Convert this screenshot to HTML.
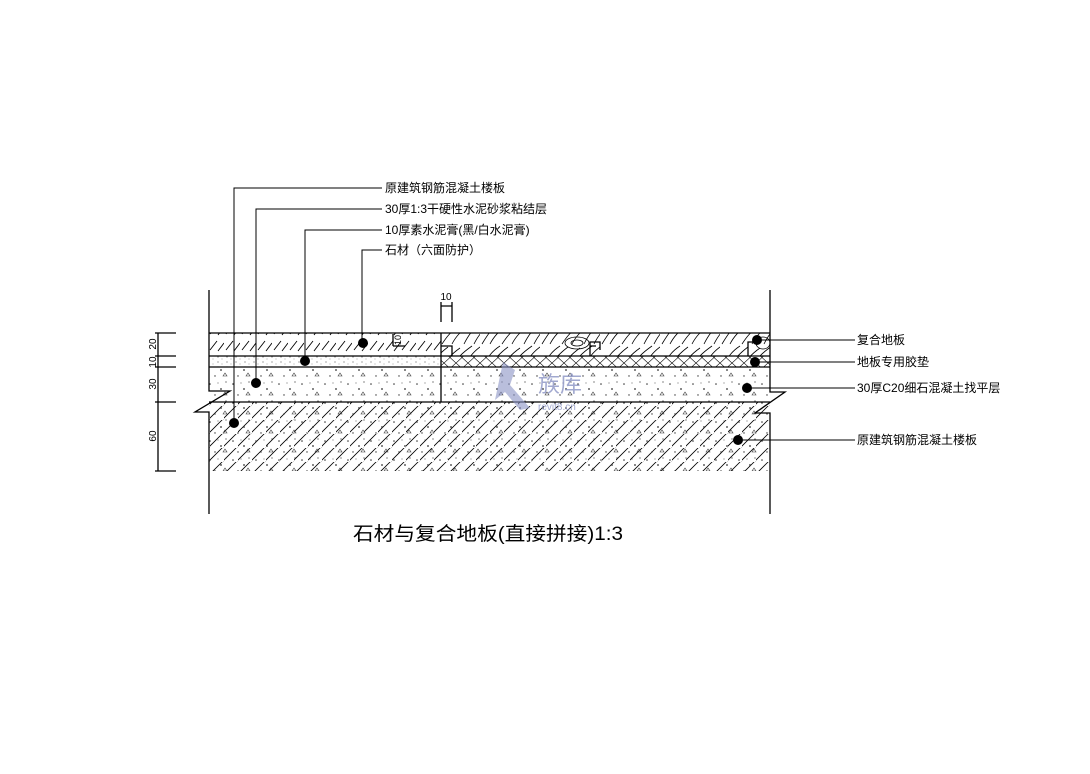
<!DOCTYPE html>
<html><head><meta charset="utf-8"><style>
html,body{margin:0;padding:0;background:#fff;}
svg{display:block;}
text{font-family:"Liberation Sans","Noto Sans CJK SC",sans-serif;fill:#000;}
</style></head><body>
<svg width="1090" height="774" viewBox="0 0 1090 774" xmlns="http://www.w3.org/2000/svg">
<defs>
<pattern id="diag" width="14" height="14" patternUnits="userSpaceOnUse">
<path d="M-2,14 L14,-2 M12,16 L16,12" stroke="#000" stroke-width="0.8"/>
</pattern>
<pattern id="stonehatch" width="16" height="16" patternUnits="userSpaceOnUse">
<path d="M2,14 L9,5 M10,15 L16,7" stroke="#000" stroke-width="0.9"/>
</pattern>
<pattern id="dots" width="23" height="19" patternUnits="userSpaceOnUse">
<circle cx="3" cy="4" r="0.8" fill="#333"/><circle cx="14" cy="9" r="0.9" fill="#333"/>
<circle cx="8" cy="15" r="0.7" fill="#333"/><circle cx="19" cy="2" r="0.6" fill="#333"/>
<path d="M16,15 l2,-3 l2,3z" fill="none" stroke="#333" stroke-width="0.6"/>
<circle cx="11" cy="3" r="0.5" fill="#333"/>
</pattern>
<pattern id="fine" width="9" height="5" patternUnits="userSpaceOnUse">
<circle cx="2" cy="2" r="0.6" fill="#666"/><circle cx="6" cy="4" r="0.5" fill="#888"/>
</pattern>
<pattern id="cross" width="12" height="11" patternUnits="userSpaceOnUse">
<path d="M0,0 L12,11 M12,0 L0,11" stroke="#000" stroke-width="0.6"/>
</pattern>
<pattern id="wood" width="60" height="23" patternUnits="userSpaceOnUse">
<path d="M2,22 C8,12 12,6 20,1 M10,22 C14,14 20,8 28,2 M22,22 C26,16 30,10 40,3 M32,22 C36,14 42,8 52,1 M44,22 C48,14 52,8 60,2 M54,22 C56,18 58,14 62,10" stroke="#000" stroke-width="0.8" fill="none"/>
</pattern>
</defs>

<rect x="209" y="333" width="232" height="23" fill="url(#stonehatch)"/>
<rect x="441" y="333" width="329" height="23" fill="url(#wood)"/>
<ellipse cx="577" cy="343" rx="12" ry="6" fill="none" stroke="#000" stroke-width="0.8"/>
<ellipse cx="577" cy="343" rx="6" ry="3" fill="none" stroke="#000" stroke-width="0.8"/>
<ellipse cx="763" cy="343" rx="7" ry="6" fill="none" stroke="#000" stroke-width="0.8"/>
<rect x="209" y="356" width="232" height="11" fill="url(#fine)"/>
<rect x="441" y="356" width="329" height="11" fill="url(#cross)"/>
<rect x="209" y="367" width="561" height="35" fill="url(#dots)"/>
<rect x="209" y="402" width="561" height="69" fill="url(#diag)"/>
<rect x="209" y="402" width="561" height="69" fill="url(#dots)"/>

<g stroke="#000" stroke-width="1.3" fill="none">
<line x1="209" y1="333" x2="770" y2="333"/>
<line x1="209" y1="356" x2="770" y2="356"/>
<line x1="209" y1="367" x2="770" y2="367"/>
<line x1="209" y1="402" x2="770" y2="402"/>
<line x1="441" y1="333" x2="441" y2="402"/>
<path d="M441,346 H452 V356"/>
<path d="M590,356 V342 H600 V350 M590,346 H596"/>
<path d="M748,356 V342 H758"/>
<path d="M209,290 V391 H230 L195,412 H209 V514"/>
<path d="M770,290 V392 H785 L755,413 H770 V514"/>
<path d="M441,302 V322 M452,302 V322 M441,306 H452"/>
<path d="M158,333 V471 M155,333 H176 M155,356 H176 M155,367 H176 M155,402 H176 M155,471 H176"/>
<path d="M393,334 V346 M393,346 H405"/>
</g>
<g font-size="10">
<text x="446" y="300" text-anchor="middle">10</text>
<text transform="translate(156,344) rotate(-90)" text-anchor="middle">20</text>
<text transform="translate(156,362) rotate(-90)" text-anchor="middle">10</text>
<text transform="translate(156,384) rotate(-90)" text-anchor="middle">30</text>
<text transform="translate(156,436) rotate(-90)" text-anchor="middle">60</text>
<text transform="translate(401,340) rotate(-90)" text-anchor="middle" font-size="9">10</text>
</g>

<g stroke="#000" stroke-width="1" fill="none">
<path d="M234,423 V188 H382"/>
<path d="M256,383 V209 H382"/>
<path d="M305,361 V230 H382"/>
<path d="M362,343 V250 H382"/>
<path d="M757,340 H855"/>
<path d="M755,362 H855"/>
<path d="M747,388 H855"/>
<path d="M738,440 H855"/>
</g>
<g fill="#000">
<circle cx="234" cy="423" r="5"/><circle cx="256" cy="383" r="5"/>
<circle cx="305" cy="361" r="5"/><circle cx="363" cy="343" r="5"/>
<circle cx="757" cy="340" r="5"/><circle cx="755" cy="362" r="5"/>
<circle cx="747" cy="388" r="5"/><circle cx="738" cy="440" r="5"/>
</g>
<g font-size="12">
<text x="385" y="192">原建筑钢筋混凝土楼板</text>
<text x="385" y="213">30厚1:3干硬性水泥砂浆粘结层</text>
<text x="385" y="234">10厚素水泥膏(黑/白水泥膏)</text>
<text x="385" y="254">石材（六面防护）</text>
<text x="857" y="344">复合地板</text>
<text x="857" y="366">地板专用胶垫</text>
<text x="857" y="392">30厚C20细石混凝土找平层</text>
<text x="857" y="444">原建筑钢筋混凝土楼板</text>
</g>
<path d="M495,400 L503,362 L515,370 L510,385 L530,408 L520,410 L505,392 Z" fill="#8a93c4" opacity="0.6"/>
<text x="538" y="392" font-size="22" style="fill:#8a93c4" opacity="0.8">族库</text>
<text x="538" y="410" font-size="10" style="fill:#8a93c4" opacity="0.8">revit8.cn</text>

<text x="353" y="540" font-size="19" textLength="270" lengthAdjust="spacingAndGlyphs">石材与复合地板(直接拼接)1:3</text>
</svg>
</body></html>
